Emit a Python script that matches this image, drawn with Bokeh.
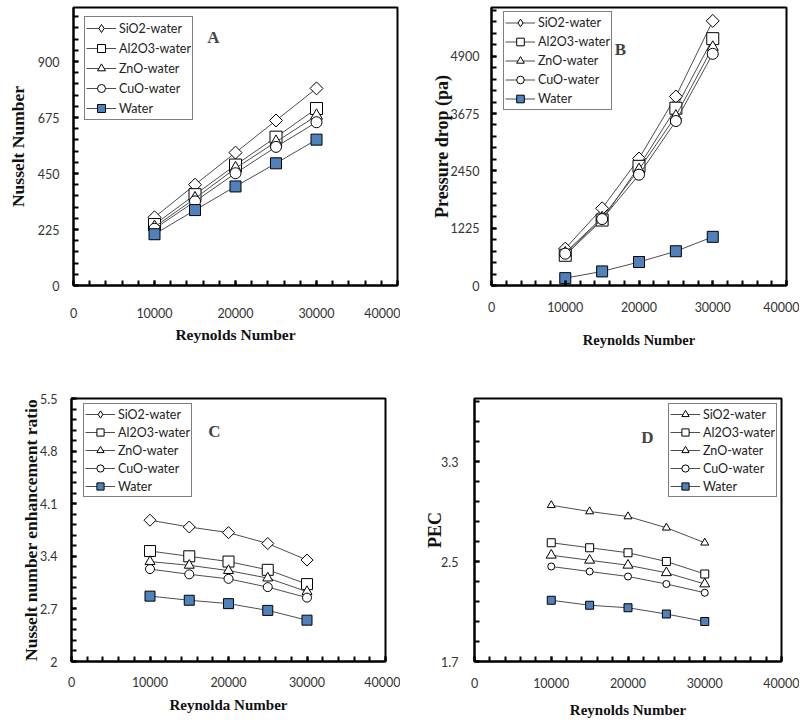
import numpy as np
from bokeh.plotting import figure
from bokeh.models import Range1d, FixedTicker, Legend, LegendItem, Label
from bokeh.layouts import column, row
from bokeh.embed import file_html
from bokeh.resources import INLINE

# ---------------- data ----------------
reynolds = [10000, 15000, 20000, 25000, 30000]
series_names = ["SiO2-water", "Al2O3-water", "ZnO-water", "CuO-water", "Water"]

x_ticks = [0, 10000, 20000, 30000, 40000]
x_tick_labels = ["0", "10000", "20000", "30000", "40000"]

# Panel A - Nusselt number
nu_sio2 = [274, 405, 534, 663, 792]
nu_al2o3 = [245, 365, 484, 596, 711]
nu_zno = [235, 350, 471, 577, 682]
nu_cuo = [228, 338, 451, 557, 656]
nu_water = [206, 303, 398, 491, 586]
a_yticks = [0, 225, 450, 675, 900]
a_ylabels = ["0", "225", "450", "675", "900"]

# Panel B - Pressure drop (pa)
dp_sio2 = [788, 1649, 2713, 4039, 5654]
dp_al2o3 = [646, 1399, 2547, 3789, 5275]
dp_zno = [700, 1450, 2480, 3623, 5094]
dp_cuo = [680, 1420, 2368, 3515, 4951]
dp_water = [157, 301, 502, 732, 1040]
b_yticks = [0, 1225, 2450, 3675, 4900]
b_ylabels = ["0", "1225", "2450", "3675", "4900"]

# Panel C - Nusselt number enhancement ratio
ner_sio2 = [3.88, 3.79, 3.715, 3.57, 3.35]
ner_al2o3 = [3.47, 3.40, 3.33, 3.22, 3.03]
ner_zno = [3.33, 3.28, 3.21, 3.11, 2.93]
ner_cuo = [3.23, 3.16, 3.10, 2.99, 2.85]
ner_water = [2.87, 2.815, 2.77, 2.68, 2.55]
c_yticks = [2, 2.7, 3.4, 4.1, 4.8, 5.5]
c_ylabels = ["2", "2.7", "3.4", "4.1", "4.8", "5.5"]

# Panel D - PEC
pec_sio2 = [2.95, 2.90, 2.86, 2.77, 2.65]
pec_al2o3 = [2.65, 2.61, 2.57, 2.50, 2.40]
pec_zno = [2.55, 2.51, 2.47, 2.41, 2.32]
pec_cuo = [2.46, 2.42, 2.38, 2.32, 2.25]
pec_water = [2.19, 2.15, 2.13, 2.08, 2.02]
d_yticks = [1.7, 2.5, 3.3]
d_ylabels = ["1.7", "2.5", "3.3"]

# ---------------- styles ----------------
BLUE = "#4F81BD"
LINE = "#4d4d4d"
TICK_FONT = "Lato"
LEG_FONT = "Lato"
SERIF = "Liberation Serif"


def marker_style(kind, size):
    base = dict(fill_color="white", line_color="black", line_width=1)
    if kind == "diamond":
        return dict(marker="square", angle=np.pi / 4, size=size * 0.707, **base)
    if kind == "square":
        return dict(marker="square", size=size, **base)
    if kind == "triangle":
        return dict(marker="triangle", size=size, **base)
    if kind == "circle":
        return dict(marker="circle", size=size, **base)
    return dict(marker="square", size=size, fill_color=BLUE,
                line_color="black", line_width=1)


def minor_between(ticks, ymin, ymax, n=5):
    step = (ticks[1] - ticks[0]) / n
    vals = []
    v = ticks[0]
    while v >= ymin - 1e-9:
        v -= step
    v += step
    while v <= ymax + 1e-9:
        vals.append(round(v, 6))
        v += step
    return vals


def make_panel(width, height, borders, yr, yticks, ylabels, ylabel, xlabel,
               series, kinds, sizes, leg_loc, leg_row, letter, letter_pos,
               ylab_size, xlab_size, y_std, ylab_std, x_std, xlab_std):
    p = figure(width=width, height=height, output_backend="svg",
               toolbar_location=None, x_range=Range1d(0, 40000),
               y_range=Range1d(*yr),
               min_border_left=borders[0], min_border_right=borders[1],
               min_border_top=borders[2], min_border_bottom=borders[3])
    p.grid.visible = False
    p.outline_line_color = "black"
    p.outline_line_width = 2
    p.background_fill_color = "white"
    p.border_fill_color = "white"

    p.xaxis.ticker = FixedTicker(ticks=x_ticks,
                                 minor_ticks=list(range(0, 40001, 2000)))
    p.yaxis.ticker = FixedTicker(ticks=yticks,
                                 minor_ticks=minor_between(yticks, yr[0], yr[1]))
    p.xaxis.major_label_overrides = {t: s for t, s in zip(x_ticks, x_tick_labels)}
    p.yaxis.major_label_overrides = {t: s for t, s in zip(yticks, ylabels)}
    for ax in (p.xaxis[0], p.yaxis[0]):
        ax.axis_line_color = "black"
        ax.axis_line_width = 2
        ax.major_tick_in = 5
        ax.major_tick_out = 0
        ax.minor_tick_in = 5
        ax.minor_tick_out = 0
        ax.major_tick_line_width = 2
        ax.minor_tick_line_width = 2
        ax.major_tick_line_color = "black"
        ax.minor_tick_line_color = "black"
        ax.major_label_text_font = TICK_FONT
        ax.major_label_text_font_size = "12.5px"
        ax.major_label_text_color = "#333333"
        ax.axis_label_text_font = SERIF
        ax.axis_label_text_font_style = "bold"
        ax.axis_label_text_color = "#111111"
    p.yaxis.axis_label = ylabel
    p.xaxis.axis_label = xlabel
    p.yaxis.axis_label_text_font_size = ylab_size
    p.xaxis.axis_label_text_font_size = xlab_size
    p.yaxis.major_label_standoff = y_std
    p.yaxis.axis_label_standoff = ylab_std
    p.xaxis.major_label_standoff = x_std
    p.xaxis.axis_label_standoff = xlab_std

    items = []
    for name, ys, kind, sz in zip(series_names, series, kinds, sizes):
        r1 = p.line(reynolds, ys, line_color=LINE, line_width=1)
        r2 = p.scatter(reynolds, ys, **marker_style(kind, sz))
        if kind == "diamond":
            # legend-only diamond (zero size on the plot)
            r3 = p.scatter(reynolds, ys, marker="diamond", size=0,
                           fill_color="white", line_color="black", line_width=1)
            items.append(LegendItem(label=name, renderers=[r1, r3]))
        else:
            items.append(LegendItem(label=name, renderers=[r1, r2]))

    leg = Legend(items=items, location=leg_loc)
    leg.label_text_font = LEG_FONT
    leg.label_text_font_size = "12.5px"
    leg.label_text_color = "#222222"
    leg.glyph_width = 30
    leg.glyph_height = leg_row
    leg.label_height = leg_row
    leg.label_standoff = 3
    leg.spacing = 0
    leg.padding = 1
    leg.margin = 0
    leg.border_line_color = "black"
    leg.border_line_width = 1.5
    leg.background_fill_color = "white"
    leg.background_fill_alpha = 1
    p.add_layout(leg, "center")

    p.add_layout(Label(x=letter_pos[0], y=letter_pos[1], x_units="screen",
                       y_units="screen", text=letter, text_font=SERIF,
                       text_font_style="bold", text_font_size="17px",
                       text_align="center", text_baseline="middle"))
    return p


pA = make_panel(400, 360, (73, 3, 7, 75), (0, 1117), a_yticks, a_ylabels,
                "Nusselt Number", "Reynolds Number",
                [nu_sio2, nu_al2o3, nu_zno, nu_cuo, nu_water],
                ["diamond", "square", "triangle", "circle", "water"],
                [13, 12, 12, 11, 11], (11, 165), 20, "A", (140, 248),
                "17.5px", "15.5px", 14, 7, 22, 5)

pB = make_panel(399, 360, (91, 13, 7, 75), (0, 5941), b_yticks, b_ylabels,
                "Pressure drop (pa)", "Reynolds Number",
                [dp_sio2, dp_al2o3, dp_zno, dp_cuo, dp_water],
                ["diamond", "square", "triangle", "circle", "water"],
                [13, 12, 11, 11, 11], (12, 175), 19, "B", (129, 236),
                "18px", "14.5px", 12, -4, 16, 17)

pC = make_panel(400, 362, (71, 15, 38, 61), (2, 5.5), c_yticks, c_ylabels,
                "Nusselt number enhancement ratio", "Reynolda Number",
                [ner_sio2, ner_al2o3, ner_zno, ner_cuo, ner_water],
                ["diamond", "square", "triangle", "circle", "water"],
                [12, 11, 10, 9, 10], (12, 164), 18, "C", (143, 230),
                "17.5px", "15px", 14, -4, 15, 7)

pD = make_panel(399, 362, (74, 18, 38, 61), (1.7, 3.804), d_yticks, d_ylabels,
                "PEC", "Reynolds Number",
                [pec_sio2, pec_al2o3, pec_zno, pec_cuo, pec_water],
                ["triangle", "square", "triangle", "circle", "water"],
                [8, 8, 10, 7, 8], (194, 164), 18, "D", (173, 224),
                "18px", "15px", 16, -7, 16, 11)

layout = column(row(pA, pB), row(pC, pD))
open("out.html", "w").write(file_html(layout, INLINE))
